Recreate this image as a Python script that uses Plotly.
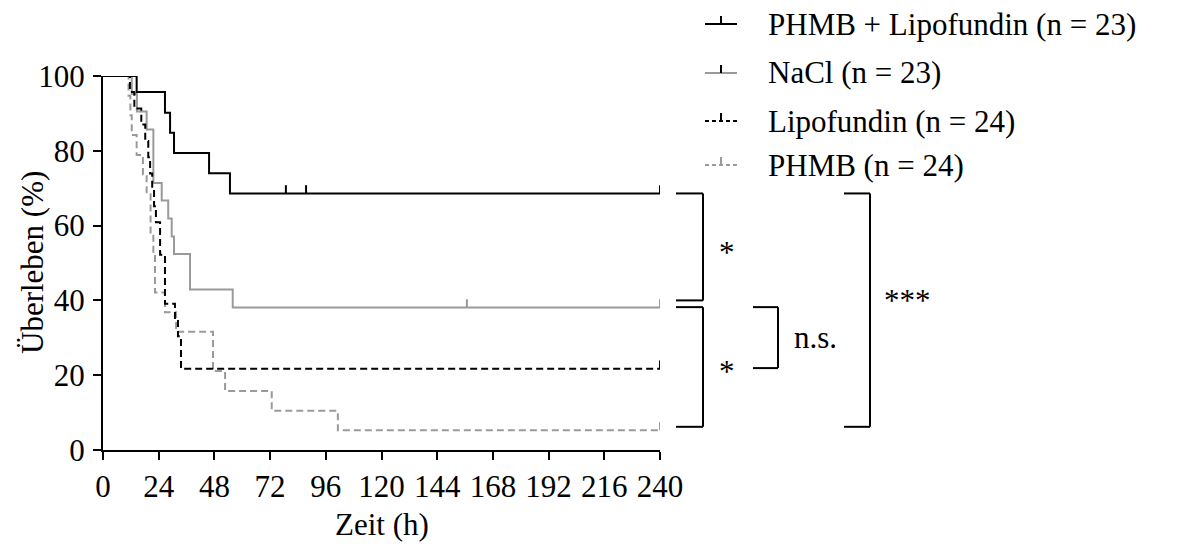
import plotly.graph_objects as go

# ---------------- data ----------------
series_names = ["PHMB + Lipofundin (n = 23)", "NaCl (n = 23)", "Lipofundin (n = 24)", "PHMB (n = 24)"]

phmb_lipo_t = [0, 14.5, 26.7, 28.9, 30.6, 45.7, 54.7, 240]
phmb_lipo_s = [100, 95.7, 90.2, 84.8, 79.4, 74.0, 68.6, 68.6]
phmb_lipo_cens = [7.3, 8.4, 78.8, 87.5, 240]

nacl_t = [0, 12.4, 14.6, 18.8, 21.7, 25.3, 28.1, 29.6, 30.6, 37.5, 55.9, 240]
nacl_s = [100, 95.2, 90.5, 85.7, 71.4, 66.7, 61.9, 57.1, 52.4, 42.9, 38.1, 38.1]
nacl_cens = [156.8, 240]

lipo_t = [0, 11.6, 13.5, 16.5, 18.2, 19.5, 20.3, 21.2, 22.0, 22.8, 24.6, 26.7, 31.0, 32.3, 33.6, 240]
lipo_s = [100, 95.7, 91.3, 87.0, 82.6, 78.3, 73.9, 69.6, 65.2, 60.9, 52.2, 39.1, 34.8, 30.4, 21.7, 21.7]
lipo_cens = [9.5, 240]

phmb_t = [0, 11.0, 11.8, 12.4, 14.5, 17.2, 18.8, 20.5, 21.7, 22.4, 26.7, 31.5, 47.4, 52.6, 72.7, 101.2, 240]
phmb_s = [100, 94.7, 89.5, 84.2, 78.9, 73.7, 68.4, 57.9, 52.6, 42.1, 36.8, 31.6, 21.1, 15.8, 10.5, 5.3, 5.3]
phmb_cens = [240]

x_ticks = [0, 24, 48, 72, 96, 120, 144, 168, 192, 216, 240]
y_ticks = [0, 20, 40, 60, 80, 100]

# comparisons: (label, y_top, y_bottom, column)
comp_labels = ["*", "*", "n.s.", "***"]
comp_top = [68.6, 38.2, 38.2, 68.6]
comp_bottom = [40.0, 6.2, 21.9, 6.2]
comp_col = [0, 0, 1, 2]

# ---------------- style ----------------
FONT = "Liberation Serif"
FS = 31
colors = ["#000000", "#9a9a9a", "#000000", "#9a9a9a"]
dashes = ["solid", "solid", "7px,4px", "7px,4px"]
W, H = 1177, 551
L, R, T, B = 103, 517, 76, 101
PW, PH = W - L - R, H - T - B
TICK_UP = 2.2  # censor tick height in % units
label_shift = [-6, -5, 0, 10]


def pxx(px):
    return (px - L) / PW


def pxy(py):
    return (H - B - py) / PH


def step_level(ts, ss, t):
    lvl = ss[0]
    for ti, si in zip(ts, ss):
        if ti <= t:
            lvl = si
    return lvl


curves = [
    (phmb_lipo_t, phmb_lipo_s, phmb_lipo_cens),
    (nacl_t, nacl_s, nacl_cens),
    (lipo_t, lipo_s, lipo_cens),
    (phmb_t, phmb_s, phmb_cens),
]

fig = go.Figure()
for i in [3, 1, 2, 0]:
    ts, ss, cs = curves[i]
    fig.add_trace(go.Scatter(x=ts, y=ss, mode="lines", line_shape="hv",
                             line=dict(color=colors[i], width=2, dash=dashes[i]),
                             cliponaxis=False, showlegend=False, hoverinfo="skip"))
    cx, cy = [], []
    for c in cs:
        lv = step_level(ts, ss, c)
        cx += [c, c, None]
        cy += [lv, lv + TICK_UP, None]
    fig.add_trace(go.Scatter(x=cx, y=cy, mode="lines",
                             line=dict(color=colors[i], width=2),
                             cliponaxis=False, showlegend=False, hoverinfo="skip"))

shapes = []
annotations = []

# brackets
col_x = [(676, 703, 727), (753, 778, 815), (844, 870, 907)]
for k, (lab, yt, yb, c) in enumerate(zip(comp_labels, comp_top, comp_bottom, comp_col)):
    x0, x1, xl = col_x[c]
    for (a, b_, c_, d) in [(x0, yt, x1, yt), (x1, yt, x1, yb), (x0, yb, x1, yb)]:
        shapes.append(dict(type="line", xref="paper", yref="y",
                           x0=pxx(a), y0=b_, x1=pxx(c_), y1=d,
                           line=dict(color="black", width=2)))
    annotations.append(dict(x=pxx(xl), y=(yt + yb) / 2, xref="paper", yref="y",
                            text=lab, showarrow=False, xanchor="center", yanchor="middle",
                            yshift=label_shift[k],
                            font=dict(family=FONT, size=FS, color="black")))

# legend (manual)
leg_y = [24, 73, 121, 165]
for i, name in enumerate(series_names):
    y = leg_y[i]
    shapes.append(dict(type="line", xref="paper", yref="paper",
                       x0=pxx(705), x1=pxx(737), y0=pxy(y), y1=pxy(y),
                       line=dict(color=colors[i], width=2,
                                 dash="solid" if dashes[i] == "solid" else "4px,3px")))
    shapes.append(dict(type="line", xref="paper", yref="paper",
                       x0=pxx(721), x1=pxx(721), y0=pxy(y), y1=pxy(y - 8),
                       line=dict(color=colors[i] if i != 1 else "#000000", width=2)))
    annotations.append(dict(x=pxx(766), y=pxy(y), xref="paper", yref="paper",
                            text=name, showarrow=False, xanchor="left", yanchor="middle",
                            font=dict(family=FONT, size=FS, color="black")))

# axis titles
annotations.append(dict(x=pxx(32), y=pxy(263), xref="paper", yref="paper",
                        text="Überleben (%)", textangle=-90, showarrow=False,
                        xanchor="center", yanchor="middle",
                        font=dict(family=FONT, size=FS, color="black")))
annotations.append(dict(x=pxx(382), y=pxy(524), xref="paper", yref="paper",
                        text="Zeit (h)", showarrow=False,
                        xanchor="center", yanchor="middle",
                        font=dict(family=FONT, size=FS, color="black")))

fig.update_layout(
    width=W, height=H,
    margin=dict(l=L, r=R, t=T, b=B, pad=0),
    paper_bgcolor="white", plot_bgcolor="white",
    shapes=shapes, annotations=annotations,
    showlegend=False,
    xaxis=dict(range=[0, 240], tickvals=x_ticks, ticktext=[str(v) for v in x_ticks],
               ticks="outside", ticklen=8, tickwidth=2, tickcolor="black",
               showline=True, linewidth=2, linecolor="black",
               showgrid=False, zeroline=False, ticklabelstandoff=0,
               tickfont=dict(family=FONT, size=FS, color="black")),
    yaxis=dict(range=[0, 100], tickvals=y_ticks, ticktext=[str(v) for v in y_ticks],
               ticks="outside", ticklen=8, tickwidth=2, tickcolor="black",
               showline=True, linewidth=2, linecolor="black",
               showgrid=False, zeroline=False, ticklabelstandoff=2,
               tickfont=dict(family=FONT, size=FS, color="black")),
)

fig.write_html("out.html")
